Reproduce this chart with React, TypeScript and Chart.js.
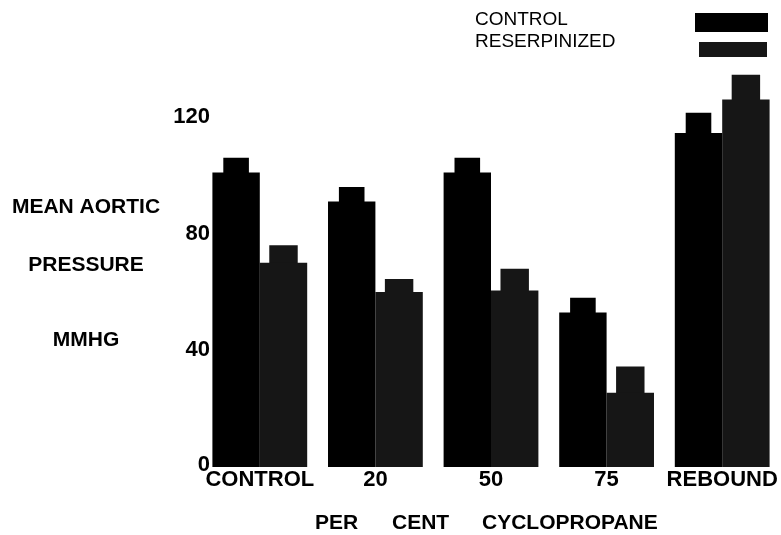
import React, { useEffect, useRef } from "react";
import { Chart, registerables } from "chart.js";

Chart.register(...registerables);

const categories = ["CONTROL", "20", "50", "75", "REBOUND"];
const seriesNames = ["CONTROL", "RESERPINIZED"];
const controlMean = [101, 91, 101, 53, 114.5];
const controlHigh = [106, 96, 106, 58, 121.5];
const reserpMean = [70, 60, 60.5, 25.5, 126];
const reserpHigh = [76, 64.5, 68, 34.5, 134.5];
const yTicks = [0, 40, 80, 120];
const yTitleLines = ["MEAN AORTIC", "PRESSURE", "MMHG"];
const xTitleWords = ["PER", "CENT", "CYCLOPROPANE"];

const CONTROL_COLOR = "#000000";
const RESERP_COLOR = "#161616";
const FONT = "'Liberation Sans', Arial, sans-serif";

const textPlugin = {
  id: "extraTexts",
  afterDraw(chart: any) {
    const ctx = chart.ctx as CanvasRenderingContext2D;
    ctx.save();
    ctx.fillStyle = "#000";

    // y tick labels, positioned through the y scale
    const ys = chart.scales.y;
    ctx.font = `bold 22px ${FONT}`;
    ctx.textAlign = "right";
    ctx.textBaseline = "middle";
    yTicks.forEach((v) => ctx.fillText(String(v), 210, ys.getPixelForValue(v) - (v === 0 ? 2 : 0)));

    // y title lines
    ctx.font = `bold 21px ${FONT}`;
    ctx.textAlign = "center";
    const yCenters = [207.5, 265.5, 340.5];
    yTitleLines.forEach((t, i) => ctx.fillText(t, 86, yCenters[i]));

    // x title
    ctx.textAlign = "left";
    const xStarts = [315, 392, 482];
    xTitleWords.forEach((w, i) => ctx.fillText(w, xStarts[i], 523));

    // legend
    ctx.font = `19px ${FONT}`;
    ctx.fillText(seriesNames[0], 475, 20);
    ctx.fillText(seriesNames[1], 475, 41.5);
    ctx.fillStyle = CONTROL_COLOR;
    ctx.fillRect(695, 13, 73, 19);
    ctx.fillStyle = RESERP_COLOR;
    ctx.fillRect(699, 42, 68, 15);
    ctx.restore();
  },
};

export default function App() {
  const canvasRef = useRef<HTMLCanvasElement | null>(null);

  useEffect(() => {
    if (!canvasRef.current) return;
    const chart = new Chart(canvasRef.current, {
      type: "bar",
      data: {
        labels: categories,
        datasets: [
          {
            label: seriesNames[0],
            data: controlMean,
            stack: "control",
            backgroundColor: CONTROL_COLOR,
            barPercentage: 1,
            categoryPercentage: 0.82,
          },
          {
            label: seriesNames[0] + " upper",
            data: controlHigh,
            stack: "control",
            backgroundColor: CONTROL_COLOR,
            barPercentage: 0.54,
            categoryPercentage: 0.82,
          },
          {
            label: seriesNames[1],
            data: reserpMean,
            stack: "reserp",
            backgroundColor: RESERP_COLOR,
            barPercentage: 1,
            categoryPercentage: 0.82,
          },
          {
            label: seriesNames[1] + " upper",
            data: reserpHigh,
            stack: "reserp",
            backgroundColor: RESERP_COLOR,
            barPercentage: 0.6,
            categoryPercentage: 0.82,
          },
        ],
      },
      options: {
        animation: false,
        responsive: true,
        maintainAspectRatio: false,
        devicePixelRatio: 1,
        layout: { padding: { top: 58.7, right: 1, left: 0, bottom: 0 } },
        plugins: {
          legend: { display: false },
          tooltip: { enabled: false },
          title: { display: false },
        },
        scales: {
          x: {
            stacked: true,
            grid: { display: false, drawTicks: false },
            border: { display: false },
            ticks: {
              autoSkip: false,
              maxRotation: 0,
              padding: 0,
              color: "#000",
              font: { family: FONT, size: 22, weight: "bold" },
            },
            afterFit: (scale: any) => {
              scale.height = 68;
            },
          },
          y: {
            stacked: false,
            min: 0,
            max: 140,
            grid: { display: false, drawTicks: false },
            border: { display: false },
            ticks: { display: false },
            afterBuildTicks: (scale: any) => {
              scale.ticks = yTicks.map((v) => ({ value: v }));
            },
            afterFit: (scale: any) => {
              scale.width = 202;
            },
          },
        },
      },
      plugins: [textPlugin],
    });
    return () => chart.destroy();
  }, []);

  return (
    <div style={{ position: "fixed", left: 0, top: 0, width: 781, height: 535, background: "#fff" }}>
      <canvas ref={canvasRef} />
    </div>
  );
}
